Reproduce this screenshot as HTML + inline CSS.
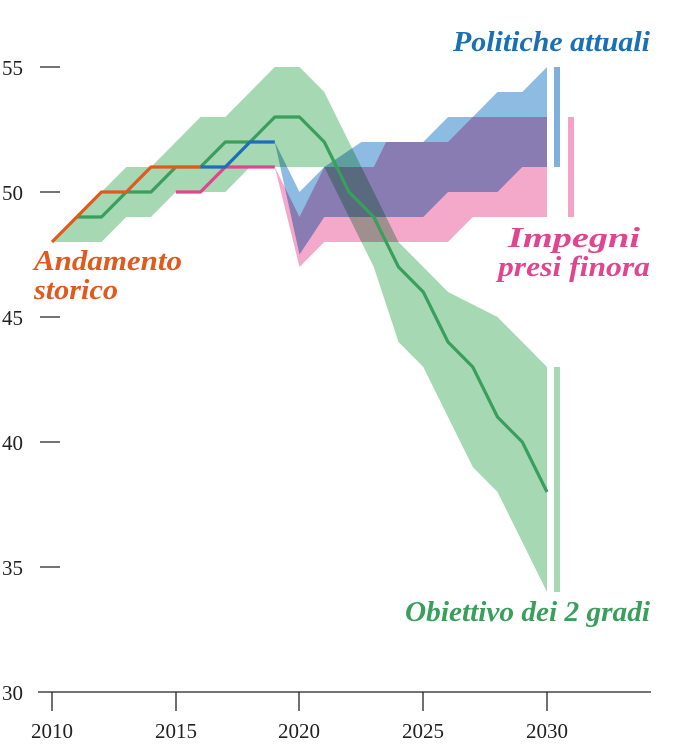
<!DOCTYPE html>
<html><head><meta charset="utf-8"><style>
body{margin:0;background:#fff}
svg{display:block}
text{font-family:"Liberation Serif",serif}
.lab{font-style:italic;font-weight:bold;font-size:29px}
.tk{font-size:21px;fill:#222}
</style></head><body>
<svg id="s" width="679" height="750" xmlns="http://www.w3.org/2000/svg">
<g id="g"></g>
<line x1="38" y1="692" x2="651" y2="692" stroke="#222" stroke-width="1.3"/>
<g stroke="#222" stroke-width="1.3">
<line x1="40" y1="67" x2="60" y2="67"/><line x1="40" y1="192" x2="60" y2="192"/>
<line x1="40" y1="317" x2="60" y2="317"/><line x1="40" y1="442" x2="60" y2="442"/>
<line x1="40" y1="567" x2="60" y2="567"/>
<line x1="52" y1="692" x2="52" y2="711"/><line x1="176" y1="692" x2="176" y2="711"/>
<line x1="299" y1="692" x2="299" y2="711"/><line x1="423" y1="692" x2="423" y2="711"/>
<line x1="547" y1="692" x2="547" y2="711"/>
</g>
<g class="tk">
<text x="2" y="75">55</text><text x="2" y="200">50</text><text x="2" y="325">45</text>
<text x="2" y="450">40</text><text x="2" y="575">35</text><text x="2" y="700">30</text>
<g text-anchor="middle"><text x="52" y="738">2010</text><text x="176" y="738">2015</text>
<text x="299" y="738">2020</text><text x="423" y="738">2025</text><text x="547" y="738">2030</text></g>
</g>
<text class="lab" x="453" y="51" textLength="197" lengthAdjust="spacingAndGlyphs" fill="#1a6fb5">Politiche attuali</text>
<text class="lab" x="508" y="247" textLength="132" lengthAdjust="spacingAndGlyphs" fill="#e0458f">Impegni</text>
<text class="lab" x="498" y="276" textLength="152" lengthAdjust="spacingAndGlyphs" fill="#e0458f">presi finora</text>
<text class="lab" x="34" y="270" textLength="148" lengthAdjust="spacingAndGlyphs" fill="#e05a1e">Andamento</text>
<text class="lab" x="34" y="299" textLength="84" lengthAdjust="spacingAndGlyphs" fill="#e05a1e">storico</text>
<text class="lab" x="405" y="621" textLength="245" lengthAdjust="spacingAndGlyphs" fill="#3a9e5c">Obiettivo dei 2 gradi</text>
</svg>
<script>
function X(y){return 52+24.75*(y-2010)}
function Y(v){return 692-25*(v-30)}
function pts(a){return a.map(p=>X(p[0]).toFixed(1)+","+Y(p[1]).toFixed(1)).join(" ")}
var g=document.getElementById("g"),NS="http://www.w3.org/2000/svg";
function poly(up,lo,fill,blend){var e=document.createElementNS(NS,"polygon");
 e.setAttribute("points",pts(up.concat(lo.slice().reverse())));e.setAttribute("fill",fill);
 if(blend)e.style.mixBlendMode="multiply";g.appendChild(e)}
function line(a,c,w){var e=document.createElementNS(NS,"polyline");e.setAttribute("points",pts(a));
 e.setAttribute("fill","none");e.setAttribute("stroke",c);e.setAttribute("stroke-width",w||3.2);
 e.setAttribute("stroke-linejoin","round");g.appendChild(e)}
function rect(x,v1,v2,c){var e=document.createElementNS(NS,"rect");e.setAttribute("x",x);e.setAttribute("width",6);
 e.setAttribute("y",Y(v1));e.setAttribute("height",Y(v2)-Y(v1));e.setAttribute("fill",c);g.appendChild(e)}
poly([[2010,48],[2011,49],[2012,50],[2013,51],[2014,51],[2015,52],[2016,53],[2017,53],[2019,55],[2020,55],[2021,54],[2022,52],[2023,50],[2024,48],[2025,47],[2026,46],[2027,45.5],[2028,45],[2029,44],[2030,43]],
 [[2010,48],[2011,48],[2012,48],[2013,49],[2014,49],[2015,50],[2016,50],[2017,50],[2018,51],[2019,51],[2021,51],[2022,49],[2023,47],[2024,44],[2025,43],[2026,41],[2027,39],[2028,38],[2029,36],[2030,34]],"#a6d8b4");
poly([[2019,51],[2020,49],[2021,51],[2023,51],[2023.5,52],[2026,52],[2027,53],[2030,53]],
 [[2019,51],[2020,47],[2021,48],[2026,48],[2027,49],[2030,49]],"#f4a9cb",1);
poly([[2019,52],[2020,50],[2021,51],[2022.5,52],[2025,52],[2026,53],[2027,53],[2028,54],[2029,54],[2030,55]],
 [[2019,52],[2020,47.5],[2021,49],[2025,49],[2026,50],[2028,50],[2029,51],[2030,51]],"#8ebbe1",1);
rect(554,55,51,"#7fb0db");rect(568,53,49,"#f2a3c6");rect(554,43,34,"#a6d8b4");
line([[2011,49],[2012,49],[2013,50],[2014,50],[2015,51],[2016,51],[2017,52],[2018,52],[2019,53],[2020,53],[2021,52],[2022,50],[2023,49],[2024,47],[2025,46],[2026,44],[2027,43],[2028,41],[2029,40],[2030,38]],"#3a9e5c");
line([[2015,50],[2016,50],[2017,51],[2019,51]],"#e0458f");
line([[2016,51],[2017,51],[2018,52],[2019,52]],"#1a6fb5");
line([[2010,48],[2012,50],[2013,50],[2014,51],[2016,51]],"#e05a1e");
</script>
</body></html>
